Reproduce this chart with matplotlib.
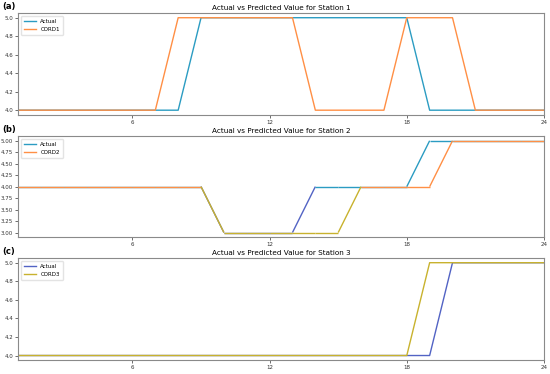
import numpy as np
import matplotlib
matplotlib.use("Agg")
import matplotlib.pyplot as plt
from matplotlib.collections import LineCollection
from matplotlib.lines import Line2D

hours = list(range(1, 25))
actual1 = [4]*7 + [4] + [5]*10 + [4]*6
cord1 = [4]*6 + [4] + [5]*6 + [4]*4 + [5]*3 + [4]*4
actual2 = [4]*9 + [3]*4 + [4]*5 + [5]*6
cord2 = [4]*9 + [3]*6 + [4]*4 + [5]*5
actual3 = [4]*19 + [5]*5
cord3 = [4]*18 + [5]*6

# fix lengths
actual1 = [4,4,4,4,4,4,4,4,5,5,5,5,5,5,5,5,5,5,4,4,4,4,4,4]
cord1   = [4,4,4,4,4,4,4,5,5,5,5,5,5,4,4,4,4,5,5,5,4,4,4,4]
actual2 = [4,4,4,4,4,4,4,4,4,3,3,3,3,4,4,4,4,4,5,5,5,5,5,5]
cord2   = [4,4,4,4,4,4,4,4,4,3,3,3,3,3,3,4,4,4,4,5,5,5,5,5]
actual3 = [4,4,4,4,4,4,4,4,4,4,4,4,4,4,4,4,4,4,4,5,5,5,5,5]
cord3   = [4,4,4,4,4,4,4,4,4,4,4,4,4,4,4,4,4,4,5,5,5,5,5,5]

titles = ["Actual vs Predicted Value for Station 1",
          "Actual vs Predicted Value for Station 2",
          "Actual vs Predicted Value for Station 3"]
panel_labels = ["(a)", "(b)", "(c)"]
pred_names = ["CORD1", "CORD2", "CORD3"]
xticks = [6, 12, 18, 24]

TEAL = "#2b9cc2"
ORANGE = "#ff8f45"
BLUE = "#5263c4"
GOLD = "#c8b22e"

fig = plt.figure(figsize=(5.5, 3.74), dpi=100)
rects = [(0.033, 0.693, 0.956, 0.272),
         (0.033, 0.366, 0.956, 0.270),
         (0.033, 0.037, 0.956, 0.273)]

def seg_line(ax, x, y, hi, lo, thresh, lw=1.0, z=2):
    pts = np.column_stack([x, y])
    segs = np.stack([pts[:-1], pts[1:]], axis=1)
    cols = [lo if min(s[0][1], s[1][1]) < thresh else hi for s in segs]
    lc = LineCollection(segs, colors=cols, linewidths=lw, zorder=z)
    ax.add_collection(lc)

data = [(actual1, cord1), (actual2, cord2), (actual3, cord3)]
for i, (r, (a, c)) in enumerate(zip(rects, data)):
    ax = fig.add_axes(r)
    if i == 0:
        ax.plot(hours, a, color=TEAL, lw=1.0, label="Actual")
        ax.plot(hours, c, color=ORANGE, lw=1.0, label=pred_names[i])
        hA, hC = TEAL, ORANGE
    elif i == 1:
        seg_line(ax, hours, a, TEAL, BLUE, 3.5, z=2)
        seg_line(ax, hours, c, ORANGE, GOLD, 3.5, z=3)
        ax.set_ylim(2.9, 5.1)
        hA, hC = TEAL, ORANGE
    else:
        ax.plot(hours, a, color=BLUE, lw=1.0, label="Actual")
        ax.plot(hours, c, color=GOLD, lw=1.0, label=pred_names[i])
        hA, hC = BLUE, GOLD
    ax.set_xlim(1, 24)
    if i == 0:
        ax.set_ylim(3.95, 5.05)
        ax.set_yticks([4.0, 4.2, 4.4, 4.6, 4.8, 5.0])
    elif i == 1:
        ax.set_ylim(2.9, 5.1)
        ax.set_yticks([3.0, 3.25, 3.5, 3.75, 4.0, 4.25, 4.5, 4.75, 5.0])
        ax.set_yticklabels(["3.00", "3.25", "3.50", "3.75", "4.00", "4.25", "4.50", "4.75", "5.00"])
    else:
        ax.set_ylim(3.95, 5.05)
        ax.set_yticks([4.0, 4.2, 4.4, 4.6, 4.8, 5.0])
    ax.set_xticks(xticks)
    ax.tick_params(labelsize=4, length=2, width=0.5, pad=1.5, colors="#333333")
    for s in ax.spines.values():
        s.set_color("#8a8a8a")
        s.set_linewidth(0.8)
    ax.set_title(titles[i], fontsize=5.2, pad=2)
    handles = [Line2D([], [], color=hA, lw=1.0), Line2D([], [], color=hC, lw=1.0)]
    ax.legend(handles, ["Actual", pred_names[i]], loc="upper left", fontsize=4,
              handlelength=2.2, borderpad=0.5, labelspacing=0.6, framealpha=0.8,
              edgecolor="#dddddd")
    ax.text(-0.03, 1.02, panel_labels[i], transform=ax.transAxes, fontsize=6,
            fontweight="bold", ha="left", va="bottom")

fig.savefig("out.png", dpi=100)
